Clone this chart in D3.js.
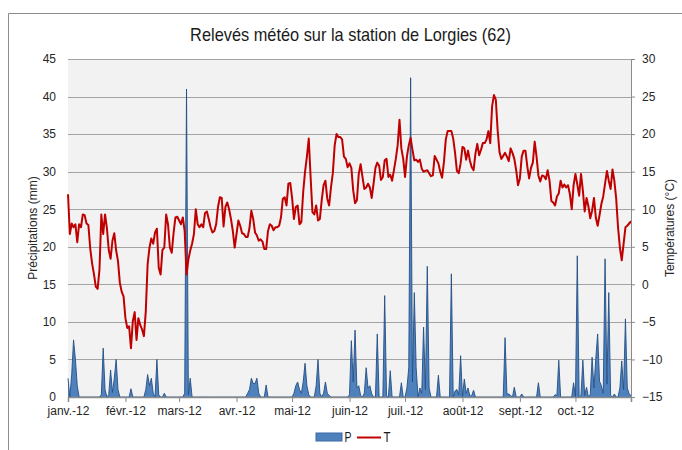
<!DOCTYPE html>
<html>
<head>
<meta charset="utf-8">
<script src="https://cdn.jsdelivr.net/npm/d3@7"></script>
<style>
  body { margin: 0; background: #fff; }
  svg { display: block; }
  .tick text { font-family: "Liberation Sans", Arial, sans-serif; font-size: 12px; fill: #262626; }
</style>
</head>
<body>
<svg id="chart" width="682" height="450"></svg>
<script>
// chart data, one value per day from 1 Jan 2012 to 31 Oct 2012
var chartTitle = "Relevés météo sur la station de Lorgies (62)"
var firstDay = new Date(2012, 0, 1)
var monthLabels = ["janv.-12", "févr.-12", "mars-12", "avr.-12", "mai-12",
  "juin-12", "juil.-12", "août-12", "sept.-12", "oct.-12"]
var precipTicks = [0, 5, 10, 15, 20, 25, 30, 35, 40, 45]
var tempTicks = [-15, -10, -5, 0, 5, 10, 15, 20, 25, 30]
var seriesNames = ["P", "T"]

// P : précipitations (mm)
var precipitation = [
  2.5, 0, 3.0, 7.6, 5.0, 1.5, 0, 0, 0, 0,
  0, 0, 0, 0, 0, 0, 0, 0, 0.3, 6.5,
  1.0, 0, 0.3, 3.6, 0.6, 2.5, 5.0, 1.0, 0, 0,
  0, 0, 0, 0, 1.1, 0, 0, 0, 0, 0,
  0, 0, 1.0, 3.0, 1.5, 2.5, 0.5, 0, 5.0, 0.3,
  0, 0, 0.5, 0, 0, 0, 0, 0, 0, 0,
  0, 0, 0, 0.5, 41.0, 0.3, 2.5, 0, 0, 0,
  0, 0, 0, 0, 0, 0, 0, 0, 0, 0,
  0, 0, 0, 0, 0, 0, 0, 0, 0, 0,
  0, 0, 0, 0, 0, 0, 0, 0.5, 1.0, 2.5,
  1.8, 1.8, 2.5, 0.5, 0, 0, 0, 1.6, 0, 0,
  0, 0, 0, 0, 0, 0, 0, 0, 0, 0,
  0, 0, 0.5, 1.5, 2.0, 1.0, 0.5, 2.0, 4.5, 1.5,
  0.3, 0, 0, 0, 1.5, 5.0, 0.5, 0, 0.5, 2.0,
  0.5, 0.2, 0, 0, 0, 0, 0, 0, 0, 0,
  0, 0, 0.3, 7.5, 2.0, 8.9, 1.2, 1.5, 0.2, 0,
  0.5, 3.9, 1.2, 1.5, 0.4, 0, 0, 8.4, 0, 0,
  0, 13.5, 0.2, 0, 3.5, 0, 0, 0, 0, 0,
  1.9, 0, 0, 1.2, 3.9, 42.5, 2.0, 13.9, 3.9, 0,
  1.2, 0.5, 9.3, 1.0, 17.4, 1.2, 0, 0, 0, 0,
  2.9, 0, 0, 0, 0, 0, 0, 16.4, 0, 0.8,
  1.0, 0.3, 5.5, 0, 2.4, 0.5, 1.2, 0.1, 0.2, 0.9,
  0, 0, 0, 0, 0, 0, 0, 0, 0, 0,
  0, 0, 0, 0, 0, 0, 7.9, 0.4, 0.4, 0.2,
  0, 1.3, 0, 0, 0, 0.4, 0, 0, 0, 0,
  0, 0, 0, 0, 1.9, 0, 0, 0, 0, 0,
  0, 0, 0, 0.3, 0.2, 4.9, 0, 0, 0, 0,
  0, 0, 0, 1.9, 0, 18.8, 0, 0.2, 4.9, 0.2,
  1.3, 0, 0.3, 5.3, 1.2, 5.2, 8.4, 2.1, 1.5, 0.5,
  18.4, 1.7, 13.9, 0.2, 0, 0.4, 0, 0, 1.2, 4.8,
  1.0, 10.4, 1.2, 0.4, 0.2
]

// T : températures (°C)
var temperature = [
  12.0, 6.7, 8.1, 7.6, 8.0, 5.6, 8.0, 7.6, 9.3, 9.2,
  8.1, 7.9, 4.8, 2.8, 1.4, -0.3, -0.6, 2.0, 9.3, 6.7,
  9.3, 7.5, 4.6, 3.4, 5.8, 6.8, 4.5, 3.1, 0.2, -1.0,
  -1.6, -4.5, -5.8, -5.6, -8.5, -4.9, -3.7, -7.4, -4.5, -5.4,
  -6.0, -6.9, -3.6, 2.7, 4.9, 6.1, 5.4, 6.9, 7.4, 2.2,
  1.3, 4.6, 4.9, 9.3, 8.0, 4.9, 4.2, 6.8, 8.9, 9.0,
  8.5, 8.0, 8.9, 7.1, 1.3, 3.3, 4.5, 5.4, 6.7, 10.0,
  8.0, 7.6, 8.0, 7.6, 9.5, 9.7, 8.7, 7.6, 6.9, 7.1,
  8.0, 10.3, 11.6, 11.5, 7.7, 10.3, 10.9, 10.0, 8.7, 7.1,
  4.9, 6.7, 8.5, 7.8, 6.8, 6.7, 6.3, 6.3, 7.5, 9.8,
  8.7, 6.9, 6.5, 5.8, 6.0, 5.7, 4.7, 4.7, 7.1, 8.0,
  7.8, 7.2, 7.6, 7.6, 7.8, 8.9, 11.4, 11.6, 10.5, 13.4,
  13.5, 11.5, 8.7, 10.3, 10.5, 8.0, 8.3, 12.3, 15.0, 17.0,
  19.4, 14.3, 9.6, 9.3, 10.5, 8.5, 8.7, 11.2, 13.2, 13.8,
  11.4, 10.5, 12.9, 14.8, 18.5, 20.0, 19.6, 19.6, 19.3, 17.0,
  16.7, 15.6, 16.1, 15.5, 12.5, 10.8, 11.2, 14.7, 16.0, 14.3,
  12.7, 12.9, 13.4, 12.9, 11.5, 13.4, 15.5, 16.2, 15.8, 13.9,
  14.3, 16.5, 16.7, 14.3, 14.6, 13.8, 15.2, 16.7, 18.5, 21.9,
  18.1, 16.7, 14.3, 17.0, 18.5, 19.5, 17.9, 16.5, 16.6, 16.3,
  16.6, 15.4, 15.0, 15.1, 15.2, 14.8, 14.4, 14.5, 17.1, 16.6,
  16.1, 15.0, 14.2, 16.3, 19.3, 20.4, 20.4, 20.4, 19.4, 17.5,
  15.1, 14.8, 16.1, 18.3, 18.1, 16.6, 17.8, 16.5, 15.6, 15.2,
  17.4, 18.7, 17.2, 17.9, 18.8, 18.8, 19.3, 20.4, 18.8, 23.7,
  25.2, 24.6, 20.5, 17.6, 16.7, 17.1, 17.5, 17.0, 16.4, 18.1,
  17.5, 16.7, 15.2, 13.2, 14.1, 17.0, 17.8, 17.8, 15.7, 14.1,
  15.5, 16.2, 19.0, 17.0, 14.5, 13.7, 14.5, 14.4, 14.0, 15.2,
  13.8, 11.1, 10.9, 10.5, 11.7, 12.1, 13.8, 12.9, 13.3, 12.9,
  13.2, 12.0, 10.0, 13.2, 14.7, 13.3, 11.8, 14.7, 12.5, 9.7,
  11.5, 10.4, 8.8, 9.8, 11.5, 8.9, 7.8, 9.2, 10.7, 11.7,
  13.4, 15.1, 13.8, 12.7, 15.3, 13.8, 11.4, 7.6, 4.9, 3.2,
  5.4, 7.6, 7.8, 8.1, 8.4
]

var baseFont = '"Liberation Sans", Arial, sans-serif'
var plot = {left: 68, right: 631, top: 59, bottom: 397}

var svg = d3.select("#chart")

var days = precipitation.map(function(d, i) { return d3.timeDay.offset(firstDay, i) })
var monthStarts = d3.timeMonth.range(firstDay, days[days.length - 1])

var x = d3.scaleTime()
  .domain([firstDay, days[days.length - 1]])
  .range([plot.left, plot.right])
var yP = d3.scaleLinear().domain([0, 45]).range([plot.bottom, plot.top])
var yT = d3.scaleLinear().domain([-15, 30]).range([plot.bottom, plot.top])

// squeeze a text horizontally, to mimic the narrow font of the original
function narrow(sel, cx, width) {
  var w = sel.node().getComputedTextLength()
  var k = width / w
  sel.attr("x", 0)
    .attr("transform", "translate(" + cx + ",0) scale(" + k + ",1)")
}

// outer frame of the chart object
svg.append("path")
  .attr("d", "M8.5,450V13.5H682")
  .attr("fill", "none")
  .attr("stroke", "#8c8c8c")

// plot area
svg.append("rect")
  .attr("x", plot.left).attr("y", plot.top)
  .attr("width", plot.right - plot.left).attr("height", plot.bottom - plot.top)
  .attr("fill", "#f2f2f2")

svg.append("g")
  .selectAll("line")
  .data(precipTicks.slice(1))
  .enter().append("line")
  .attr("x1", plot.left).attr("x2", plot.right)
  .attr("y1", function(d) { return Math.round(yP(d)) + 0.5 })
  .attr("y2", function(d) { return Math.round(yP(d)) + 0.5 })
  .attr("stroke", "#a3a3a3")

// P as an area
var area = d3.area()
  .x(function(d, i) { return x(days[i]) })
  .y0(plot.bottom)
  .y1(function(d) { return yP(d) })
var topEdge = d3.line()
  .x(function(d, i) { return x(days[i]) })
  .y(function(d) { return yP(d) })

svg.append("path")
  .datum(precipitation)
  .attr("d", area)
  .attr("fill", "#4f81bd")
svg.append("path")
  .datum(precipitation)
  .attr("d", topEdge)
  .attr("fill", "none")
  .attr("stroke", "#234f86")
  .attr("stroke-width", 0.9)

// T as a line
var tempLine = d3.line()
  .x(function(d, i) { return x(days[i]) })
  .y(function(d) { return yT(d) })

svg.append("path")
  .datum(temperature)
  .attr("d", tempLine)
  .attr("fill", "none")
  .attr("stroke", "#c00000")
  .attr("stroke-width", 2)
  .attr("stroke-linejoin", "round")

// axes
var xAxis = svg.append("g")
  .attr("transform", "translate(0," + plot.bottom + ")")
  .call(d3.axisBottom(x)
    .tickValues(monthStarts)
    .tickFormat(function(d, i) { return monthLabels[i] })
    .tickSize(5).tickSizeOuter(5).tickPadding(4))
xAxis.select(".domain").attr("stroke", "#8a8a8a").attr("stroke-width", 1.5)
xAxis.selectAll(".tick line").attr("stroke", "#8a8a8a")

var leftAxis = svg.append("g")
  .attr("transform", "translate(" + plot.left + ",0)")
  .call(d3.axisLeft(yP).tickValues(precipTicks).tickSize(0).tickPadding(12))
leftAxis.select(".domain").remove()

var rightAxis = svg.append("g")
  .attr("transform", "translate(" + plot.right + ",0)")
  .call(d3.axisRight(yT).tickValues(tempTicks).tickSize(4).tickSizeOuter(0).tickPadding(7))
rightAxis.select(".domain").attr("stroke", "#8a8a8a")
rightAxis.selectAll(".tick line").attr("stroke", "#8a8a8a")

// titles
var title = svg.append("text")
  .attr("y", 41)
  .attr("text-anchor", "middle")
  .style("font-family", baseFont).style("font-size", "19px")
  .attr("fill", "#1a1a1a")
  .text(chartTitle)
narrow(title, 350.5, 321)

svg.append("text")
  .attr("transform", "translate(37," + (plot.top + plot.bottom) / 2 + ") rotate(-90)")
  .attr("text-anchor", "middle")
  .style("font-family", baseFont).style("font-size", "12px")
  .attr("fill", "#262626")
  .text("Précipitations (mm)")

svg.append("text")
  .attr("transform", "translate(674," + (plot.top + plot.bottom) / 2 + ") rotate(-90)")
  .attr("text-anchor", "middle")
  .style("font-family", baseFont).style("font-size", "12px")
  .attr("fill", "#262626")
  .text("Températures (°C)")

// legend
var legend = svg.append("g")
legend.append("rect")
  .attr("x", 316).attr("y", 433).attr("width", 26).attr("height", 8)
  .attr("fill", "#4f81bd").attr("stroke", "#3a6aa5")
var pLabel = legend.append("text")
  .attr("y", 442)
  .attr("text-anchor", "middle")
  .style("font-family", baseFont).style("font-size", "14px")
  .attr("fill", "#1a1a1a")
  .text(seriesNames[0])
narrow(pLabel, 348, 7)
legend.append("line")
  .attr("x1", 357).attr("x2", 381).attr("y1", 437.5).attr("y2", 437.5)
  .attr("stroke", "#c00000").attr("stroke-width", 2)
var tLabel = legend.append("text")
  .attr("y", 442)
  .attr("text-anchor", "middle")
  .style("font-family", baseFont).style("font-size", "14px")
  .attr("fill", "#1a1a1a")
  .text(seriesNames[1])
narrow(tLabel, 387, 7)
</script>
</body>
</html>
